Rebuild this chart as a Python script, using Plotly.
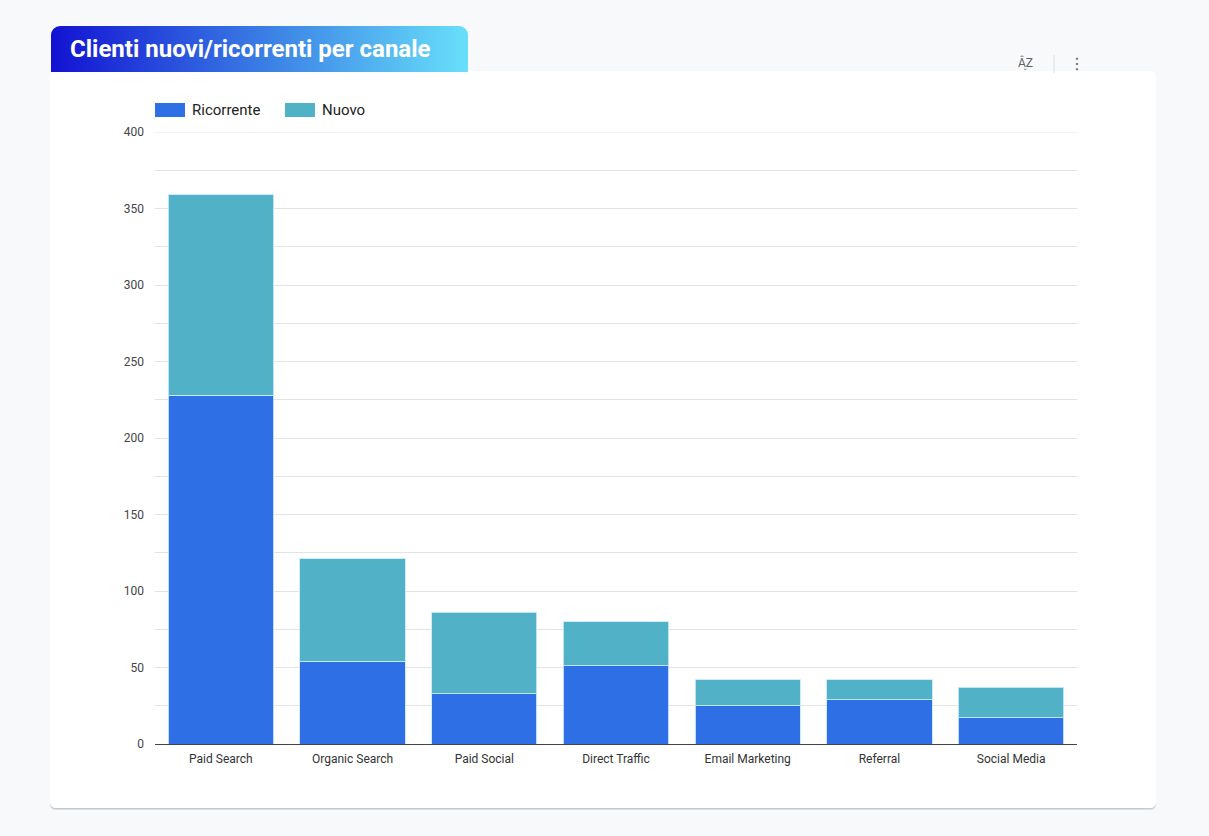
import base64
import plotly.graph_objects as go

categories = ["Paid Search", "Organic Search", "Paid Social", "Direct Traffic",
              "Email Marketing", "Referral", "Social Media"]
ricorrente = [228, 54, 33, 51, 25, 29, 17]
nuovo = [131, 67, 53, 29, 17, 13, 20]
y_ticks = [0, 50, 100, 150, 200, 250, 300, 350, 400]

W, H = 1209, 836
L, R, T, B = 155, 1077, 132, 744  # plot area in px


def px(x):
    return (x - L) / (R - L)


def py(y):
    return (B - y) / (B - T)


BLUE = "#2f6fe6"
TEAL = "#50b1c7"

fig = go.Figure()
fig.add_trace(go.Bar(x=categories, y=ricorrente, name="Ricorrente",
                     marker=dict(color=BLUE, line=dict(color="rgba(200,235,255,0.9)", width=1))))
fig.add_trace(go.Bar(x=categories, y=nuovo, name="Nuovo",
                     marker=dict(color=TEAL, line=dict(color="rgba(200,235,255,0.9)", width=1))))

shapes = []
card = dict(x0=50, x1=1156, y0=71, y1=808)
r = 6


def rounded(x0, y0, x1, y1, r):
    X0, X1 = px(x0), px(x1)
    Y0, Y1 = py(y0), py(y1)
    rx = r / (R - L)
    ry = r / (B - T)
    return (f"M {X0+rx},{Y0} L {X1-rx},{Y0} Q {X1},{Y0} {X1},{Y0-ry} "
            f"L {X1},{Y1+ry} Q {X1},{Y1} {X1-rx},{Y1} L {X0+rx},{Y1} "
            f"Q {X0},{Y1} {X0},{Y1+ry} L {X0},{Y0-ry} Q {X0},{Y0} {X0+rx},{Y0} Z")


shapes.append(dict(type="path", xref="paper", yref="paper", layer="below",
                   path=rounded(card["x0"], card["y0"] + 2, card["x1"], card["y1"] + 2, r),
                   fillcolor="rgba(0,0,0,0.10)", line=dict(width=0)))
shapes.append(dict(type="path", xref="paper", yref="paper", layer="below",
                   path=rounded(card["x0"], card["y0"] + 1, card["x1"], card["y1"] + 1, r),
                   fillcolor="rgba(0,0,0,0.10)", line=dict(width=0)))
shapes.append(dict(type="path", xref="paper", yref="paper", layer="below",
                   path=rounded(card["x0"], card["y0"], card["x1"], card["y1"], r),
                   fillcolor="white", line=dict(width=0)))
shapes.append(dict(type="line", xref="paper", yref="y", x0=0, x1=1, y0=y_ticks[-1], y1=y_ticks[-1],
                   layer="below", line=dict(color="#e3e3e3", width=1)))
shapes.append(dict(type="line", xref="paper", yref="paper",
                   x0=px(1054), x1=px(1054), y0=py(55), y1=py(73),
                   line=dict(color="#dadce0", width=1)))

legend_items = [("Ricorrente", BLUE, 155), ("Nuovo", TEAL, 285)]
annotations = []
for name, col, x0 in legend_items:
    shapes.append(dict(type="rect", xref="paper", yref="paper",
                       x0=px(x0), x1=px(x0 + 30), y0=py(103), y1=py(117),
                       fillcolor=col, line=dict(width=0)))
    annotations.append(dict(text=name, xref="paper", yref="paper",
                            x=px(x0 + 35), y=py(110), xanchor="left", yanchor="middle",
                            showarrow=False, font=dict(size=15, color="#222", family="Roboto")))

annotations.append(dict(text="<b>Clienti nuovi/ricorrenti per canale</b>", xref="paper", yref="paper",
                        x=px(68), y=py(49), xanchor="left", yanchor="middle", showarrow=False,
                        font=dict(size=24, color="white", family="Roboto")))
annotations.append(dict(text="A\u0302Z", xref="paper", yref="paper", x=px(1025), y=py(63),
                        xanchor="center", yanchor="middle", showarrow=False,
                        font=dict(size=12, color="#5f6368", family="Roboto")))
annotations.append(dict(text="\u02c7", xref="paper", yref="paper", x=px(1025), y=py(73),
                        xanchor="center", yanchor="middle", showarrow=False,
                        font=dict(size=9, color="#5f6368", family="DejaVu Sans")))
annotations.append(dict(text="\u22ee", xref="paper", yref="paper", x=px(1077), y=py(64),
                        xanchor="center", yanchor="middle", showarrow=False,
                        font=dict(size=16, color="#5f6368", family="DejaVu Sans")))

svg = ("<svg xmlns='http://www.w3.org/2000/svg' width='417' height='46' viewBox='0 0 417 46' "
       "preserveAspectRatio='none'><defs><linearGradient id='g' x1='0' x2='1' y1='0' y2='0'>"
       "<stop offset='0' stop-color='#1212d2'/><stop offset='0.55' stop-color='#3d86e6'/>"
       "<stop offset='1' stop-color='#68e0fa'/></linearGradient></defs>"
       "<rect x='0' y='0' width='417' height='46' rx='9' ry='9' fill='url(#g)'/>"
       "<rect x='0' y='20' width='417' height='26' fill='url(#g)'/></svg>")
src = "data:image/svg+xml;base64," + base64.b64encode(svg.encode()).decode()

fig.update_layout(
    width=W, height=H,
    margin=dict(l=L, r=W - R, t=T, b=H - B, pad=0),
    barmode="stack", bargap=0.2,
    paper_bgcolor="#f8f9fa", plot_bgcolor="white",
    showlegend=False,
    font=dict(family="Roboto", color="#333"),
    shapes=shapes, annotations=annotations,
    images=[dict(source=src, xref="paper", yref="paper", x=px(51), y=py(26),
                 sizex=417 / (R - L), sizey=46 / (B - T), sizing="stretch",
                 xanchor="left", yanchor="top", layer="above")],
    xaxis=dict(showline=True, linecolor="#444", linewidth=1, showgrid=False,
               tickfont=dict(size=12, color="#333"), ticks="", ticklabelstandoff=4),
    yaxis=dict(range=[0, 400], tickvals=y_ticks, showgrid=True, gridcolor="#e3e3e3",
               minor=dict(dtick=25, showgrid=True, gridcolor="#e3e3e3"),
               zeroline=False, tickfont=dict(size=12, color="#444"),
               ticks="", ticklabelstandoff=10),
)

fig.write_html("out.html")
